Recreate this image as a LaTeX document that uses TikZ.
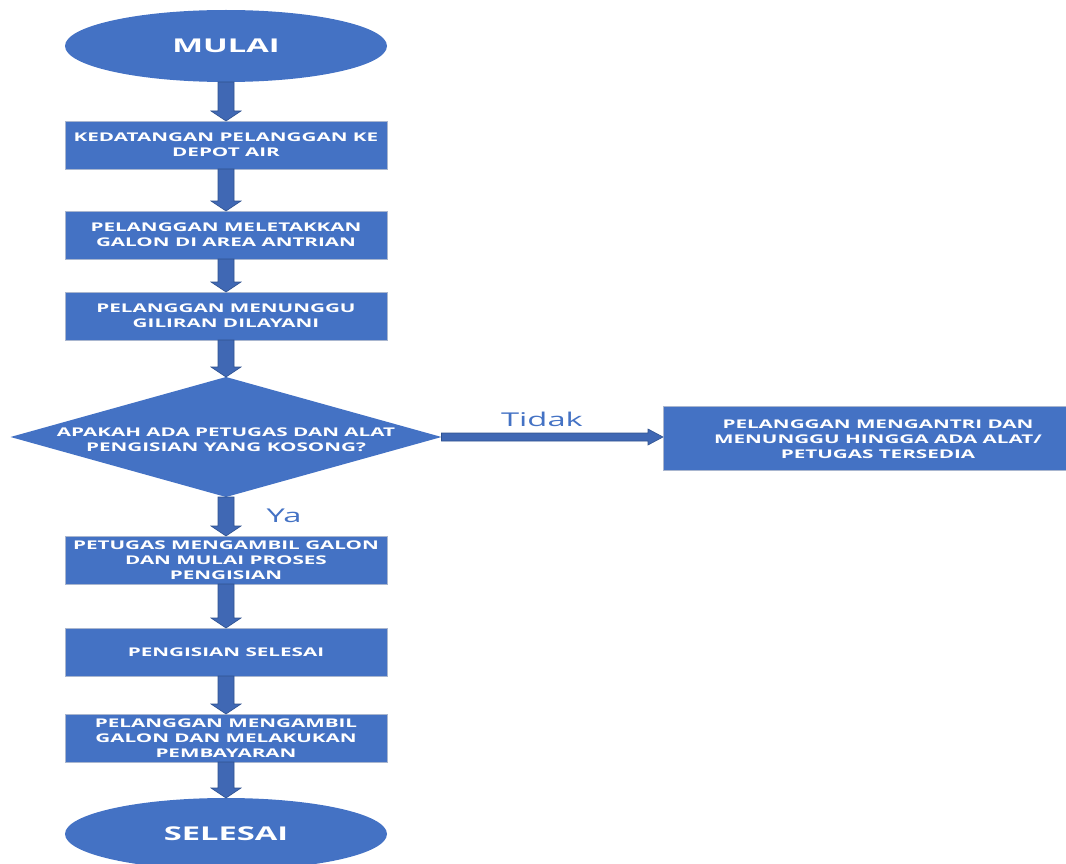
\documentclass[tikz,border=0pt]{standalone}
\usepackage{fontspec}
\setmainfont{Open Sans}
\newfontfamily\widefont[FakeStretch=1.72]{Open Sans}
\usetikzlibrary{shapes.geometric,calc}
\definecolor{blu}{HTML}{4472C4}
\definecolor{arr}{HTML}{4068B4}
\definecolor{arrl}{HTML}{2F528F}
\definecolor{bord}{HTML}{A9B6CF}
\tikzset{
  txt/.style={text=white, align=center, inner sep=0pt,
    font=\widefont\bfseries\fontsize{12}{15}\selectfont},
  procbox/.style={rectangle, fill=blu, draw=bord, line width=0.8pt,
    minimum width=322pt, minimum height=48pt, inner sep=0pt, outer sep=0pt, txt},
  terminal/.style={ellipse, fill=blu, minimum width=322pt, minimum height=72pt,
    inner sep=0pt, outer sep=0pt, text=white,
    font=\widefont\bfseries\fontsize{19}{22}\selectfont},
  decision/.style={diamond, fill=blu, minimum width=431pt, minimum height=120pt,
    inner sep=0pt, outer sep=0pt, aspect=3.6},
  barrow/.style={fill=arr, draw=arrl, line width=0.6pt, line join=miter},
  lbl/.style={text=blu, inner sep=0pt, font=\widefont\fontsize{19}{22}\selectfont}
}
\newcommand\vbarrow[2]{%
  \draw[barrow] let \p1=(#1.south), \p2=(#2.north) in
    (\x1-8pt,\y1) -- (\x1+8pt,\y1) -- (\x1+8pt,\y2+10pt) -- (\x1+15pt,\y2+10pt)
    -- (\x1,\y2) -- (\x1-15pt,\y2+10pt) -- (\x1-8pt,\y2+10pt) -- cycle;}
\newcommand\hbarrow[2]{%
  \draw[barrow] let \p1=(#1.east), \p2=(#2.west) in
    (\x1,\y1+4pt) -- (\x2-15pt,\y1+4pt) -- (\x2-15pt,\y1+8pt) -- (\x2,\y1)
    -- (\x2-15pt,\y1-8pt) -- (\x2-15pt,\y1-4pt) -- (\x1,\y1-4pt) -- cycle;}
\begin{document}
\begin{tikzpicture}[x=1pt,y=-1pt]
\useasboundingbox (0,0) rectangle (1066,864);
\clip (0,0) rectangle (1066,864);
\node[terminal] (start) at (226,46) {MULAI};
\node[procbox] (b1) at (226,145) {KEDATANGAN PELANGGAN KE\\DEPOT AIR};
\node[procbox] (b2) at (226,235) {PELANGGAN MELETAKKAN\\GALON DI AREA ANTRIAN};
\node[procbox] (b3) at (226,316) {PELANGGAN MENUNGGU\\GILIRAN DILAYANI};
\node[decision] (d) at (226,437) {};
\node[txt] (dtxt) at (226,440) {APAKAH ADA PETUGAS DAN ALAT\\PENGISIAN YANG KOSONG?};
\node[procbox, minimum width=403pt, minimum height=64pt] (r) at (864.5,438) {};
\node[txt] (rtxt) at (878,439)
  {PELANGGAN MENGANTRI DAN\\MENUNGGU HINGGA ADA ALAT/\\PETUGAS TERSEDIA};
\node[procbox] (b4) at (226,560) {PETUGAS MENGAMBIL GALON\\DAN MULAI PROSES\\PENGISIAN};
\node[procbox] (b5) at (226,652) {PENGISIAN SELESAI};
\node[procbox] (b6) at (226,738) {PELANGGAN MENGAMBIL\\GALON DAN MELAKUKAN\\PEMBAYARAN};
\node[terminal] (end) at (226,834) {SELESAI};
\vbarrow{start}{b1}
\vbarrow{b1}{b2}
\vbarrow{b2}{b3}
\vbarrow{b3}{d}
\vbarrow{d}{b4}
\vbarrow{b4}{b5}
\vbarrow{b5}{b6}
\vbarrow{b6}{end}
\hbarrow{d}{r}
\node[lbl] (tidak) at (542,419) {Tidak};
\node[lbl] (ya) at (284,516) {Ya};
\end{tikzpicture}
\end{document}
